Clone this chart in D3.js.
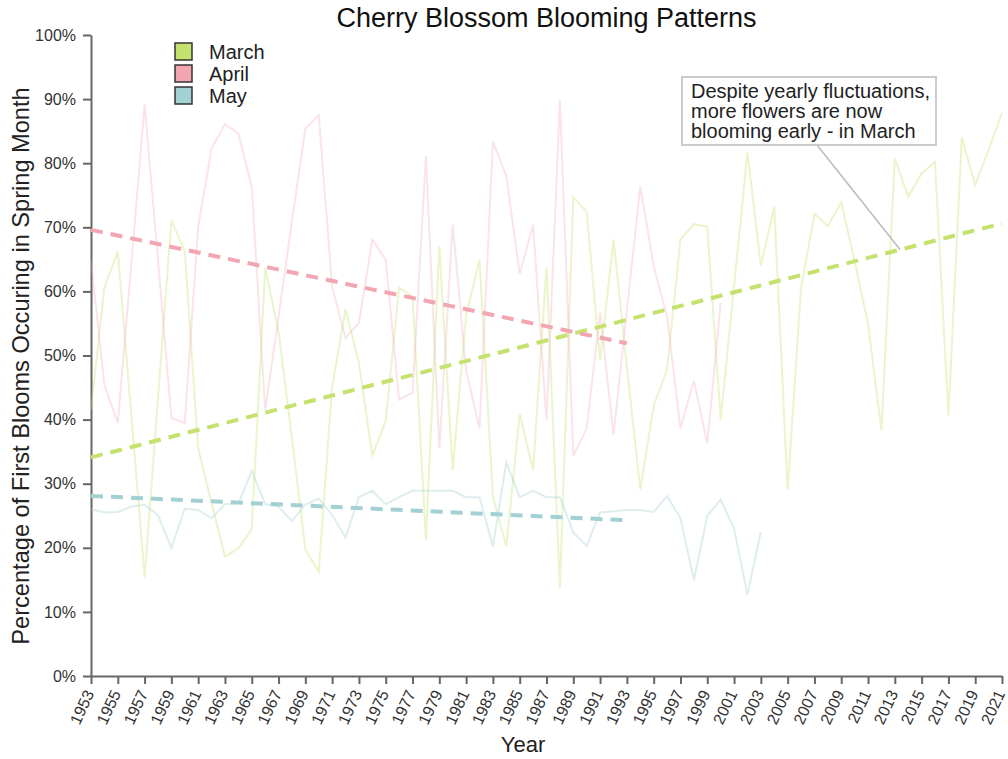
<!DOCTYPE html>
<meta charset="utf-8">

<!-- Load d3.js -->
<script src="https://d3js.org/d3.v7.min.js"></script>

<div id="my_dataviz"></div>

<style>
    body {
        margin: 0;
        background: #fff;
        font-family: 'Liberation Sans', Arial, sans-serif;
    }
    .axis path, .axis line {
        stroke: #666;
        stroke-width: 2;
    }
    .axis text {
        fill: #333;
        font-size: 16px;
        font-family: 'Liberation Sans', Arial, sans-serif;
    }
</style>

<script>
    // years on the x axis
    var years = d3.range(1953, 2022);

    // share of first blooms in each month (%)
    var march = [41.5, 60.6, 66.2, 41.0, 15.4, 43.3, 71.1, 66.2, 35.5, 27.0,
                 18.6, 19.9, 22.9, 63.6, 53.7, 37.1, 19.7, 16.3, 45.1, 57.2,
                 48.8, 34.3, 39.8, 60.6, 59.2, 21.3, 67.0, 32.1, 56.3, 64.9,
                 28.0, 20.2, 40.9, 32.1, 63.8, 13.7, 74.7, 72.4, 49.2, 68.1,
                 48.2, 29.1, 42.1, 47.8, 68.1, 70.5, 70.1, 40.0, 60.8, 81.6,
                 64.0, 73.2, 29.0, 60.5, 72.1, 70.2, 73.9, 64.7, 55.0, 38.3,
                 80.8, 74.8, 78.4, 80.2, 40.6, 84.0, 76.6, 82.1, 87.9];
    var april = [64.9, 45.4, 39.5, 64.0, 89.2, 65.0, 40.2, 39.5, 70.1, 82.3,
                 86.1, 84.6, 76.3, 41.5, 56.0, 71.0, 85.4, 87.5, 60.7, 52.7,
                 55.1, 68.1, 64.9, 43.1, 44.2, 81.1, 35.5, 70.4, 47.7, 38.6,
                 83.4, 78.0, 62.7, 70.4, 39.9, 89.9, 34.4, 38.6, 56.7, 37.6,
                 57.0, 76.4, 63.9, 56.1, 38.6, 46.1, 36.3, 58.2];
    var may = [26.0, 25.5, 25.6, 26.4, 26.7, 25.1, 20.0, 26.1, 25.9, 24.6,
               26.8, 26.9, 32.0, 26.8, 26.4, 24.2, 26.7, 27.7, 25.1, 21.6,
               27.9, 28.9, 26.8, 27.9, 28.9, 28.9, 28.9, 28.9, 27.9, 27.9,
               20.2, 33.3, 27.9, 28.9, 27.9, 27.9, 22.4, 20.3, 25.5, 25.7,
               25.9, 25.9, 25.6, 28.1, 24.6, 15.0, 25.0, 27.5, 23.0, 12.7,
               22.5];

    // dashed trend lines: start / end year and value
    var marchTrendYears = [1953, 2021], marchTrend = [34.1, 70.6];
    var aprilTrendYears = [1953, 1993], aprilTrend = [69.6, 51.9];
    var mayTrendYears = [1953, 1993], mayTrend = [28.1, 24.3];

    var months = ["March", "April", "May"];
    var colors = ["#c5e26f", "#f2a6b2", "#a3d1d3"];

    var yTicks = [0, 10, 20, 30, 40, 50, 60, 70, 80, 90, 100];
    var annotationLines = ["Despite yearly fluctuations,", "more flowers are now", "blooming early - in March"];
    var annotationYear = 2013.4, annotationValue = 66.5;

    // set the dimensions of the graph
    var margin = {top: 35, right: 6, bottom: 83, left: 91},
        width = 1008 - margin.left - margin.right,
        height = 759 - margin.top - margin.bottom;

    var svgRoot = d3.select("#my_dataviz")
        .append("svg")
        .attr("width", width + margin.left + margin.right)
        .attr("height", height + margin.top + margin.bottom);

    var svg = svgRoot.append("g")
        .attr("transform", "translate(" + margin.left + "," + margin.top + ")");

    var x = d3.scaleLinear().domain([1953, 2021]).range([0, width]);
    var y = d3.scaleLinear().domain([0, 100]).range([height, 0]);

    // x axis
    var xAxis = svg.append("g")
        .attr("class", "axis")
        .attr("transform", "translate(0," + height + ")")
        .call(d3.axisBottom(x)
            .tickValues(years.filter(function(d) { return (d - 1953) % 2 === 0; }))
            .tickFormat(d3.format("d"))
            .tickSize(8)
            .tickSizeOuter(0));
    xAxis.selectAll("text")
        .attr("x", 0)
        .attr("y", 0)
        .attr("dy", "0.35em")
        .style("text-anchor", "end")
        .attr("transform", "translate(-2,15) rotate(-65)");

    // y axis
    svg.append("g")
        .attr("class", "axis")
        .call(d3.axisLeft(y)
            .tickValues(yTicks)
            .tickFormat(function(d) { return d + "%"; })
            .tickSize(8)
            .tickSizeOuter(0)
            .tickPadding(7));

    // axis labels
    svg.append("text")
        .attr("x", 523 - margin.left)
        .attr("y", 752 - margin.top)
        .style("text-anchor", "middle")
        .style("font-size", "22px")
        .style("fill", "#222")
        .text("Year");

    svg.append("text")
        .attr("transform", "rotate(-90)")
        .attr("x", -(366 - margin.top))
        .attr("y", 29 - margin.left)
        .style("text-anchor", "middle")
        .style("font-size", "23.6px")
        .style("fill", "#222")
        .text("Percentage of First Blooms Occuring in Spring Month");

    // title
    svgRoot.append("text")
        .attr("x", margin.left + width / 2)
        .attr("y", 27)
        .style("text-anchor", "middle")
        .style("font-size", "27px")
        .style("fill", "#111")
        .text("Cherry Blossom Blooming Patterns");

    // faded yearly lines
    var series = [march, april, may];
    var line = d3.line()
        .x(function(d, i) { return x(years[i]); })
        .y(function(d) { return y(d); });

    svg.selectAll(".month-line")
        .data(series)
        .enter()
        .append("path")
        .attr("class", "month-line")
        .attr("fill", "none")
        .attr("stroke", function(d, i) { return colors[i]; })
        .attr("stroke-opacity", function(d, i) { return i === 1 ? 0.3 : 0.36; })
        .attr("stroke-width", 2)
        .attr("d", line);

    // dashed trend lines
    var trends = [
        {yr: marchTrendYears, v: marchTrend},
        {yr: aprilTrendYears, v: aprilTrend},
        {yr: mayTrendYears, v: mayTrend}
    ];
    svg.selectAll(".trend")
        .data(trends)
        .enter()
        .append("path")
        .attr("class", "trend")
        .attr("fill", "none")
        .attr("stroke", function(d, i) { return colors[i]; })
        .attr("stroke-width", 4)
        .attr("stroke-dasharray", "12,8")
        .attr("d", function(d) {
            return d3.line()
                .x(function(v, i) { return x(d.yr[i]); })
                .y(function(v) { return y(v); })(d.v);
        });

    // legend
    var legend = svgRoot.selectAll(".legend")
        .data(months)
        .enter()
        .append("g")
        .attr("class", "legend")
        .attr("transform", function(d, i) { return "translate(175," + (43 + i * 22) + ")"; });
    legend.append("rect")
        .attr("width", 17)
        .attr("height", 17)
        .attr("fill", function(d, i) { return colors[i]; })
        .attr("stroke", "#333")
        .attr("stroke-width", 1.5);
    legend.append("text")
        .attr("x", 34)
        .attr("y", 9)
        .attr("dy", "0.35em")
        .style("font-size", "20px")
        .style("fill", "#222")
        .text(function(d) { return d; });

    // annotation
    svg.append("line")
        .attr("x1", 817 - margin.left)
        .attr("y1", 145 - margin.top)
        .attr("x2", x(annotationYear))
        .attr("y2", y(annotationValue))
        .attr("stroke", "#bbb")
        .attr("stroke-width", 1.5);
    svgRoot.append("rect")
        .attr("x", 682)
        .attr("y", 77)
        .attr("width", 254)
        .attr("height", 68)
        .attr("fill", "#fff")
        .attr("stroke", "#ccc")
        .attr("stroke-width", 2);
    svgRoot.selectAll(".note")
        .data(annotationLines)
        .enter()
        .append("text")
        .attr("class", "note")
        .attr("x", 691)
        .attr("y", function(d, i) { return 98 + i * 20; })
        .style("font-size", "20px")
        .style("fill", "#222")
        .text(function(d) { return d; });
</script>
